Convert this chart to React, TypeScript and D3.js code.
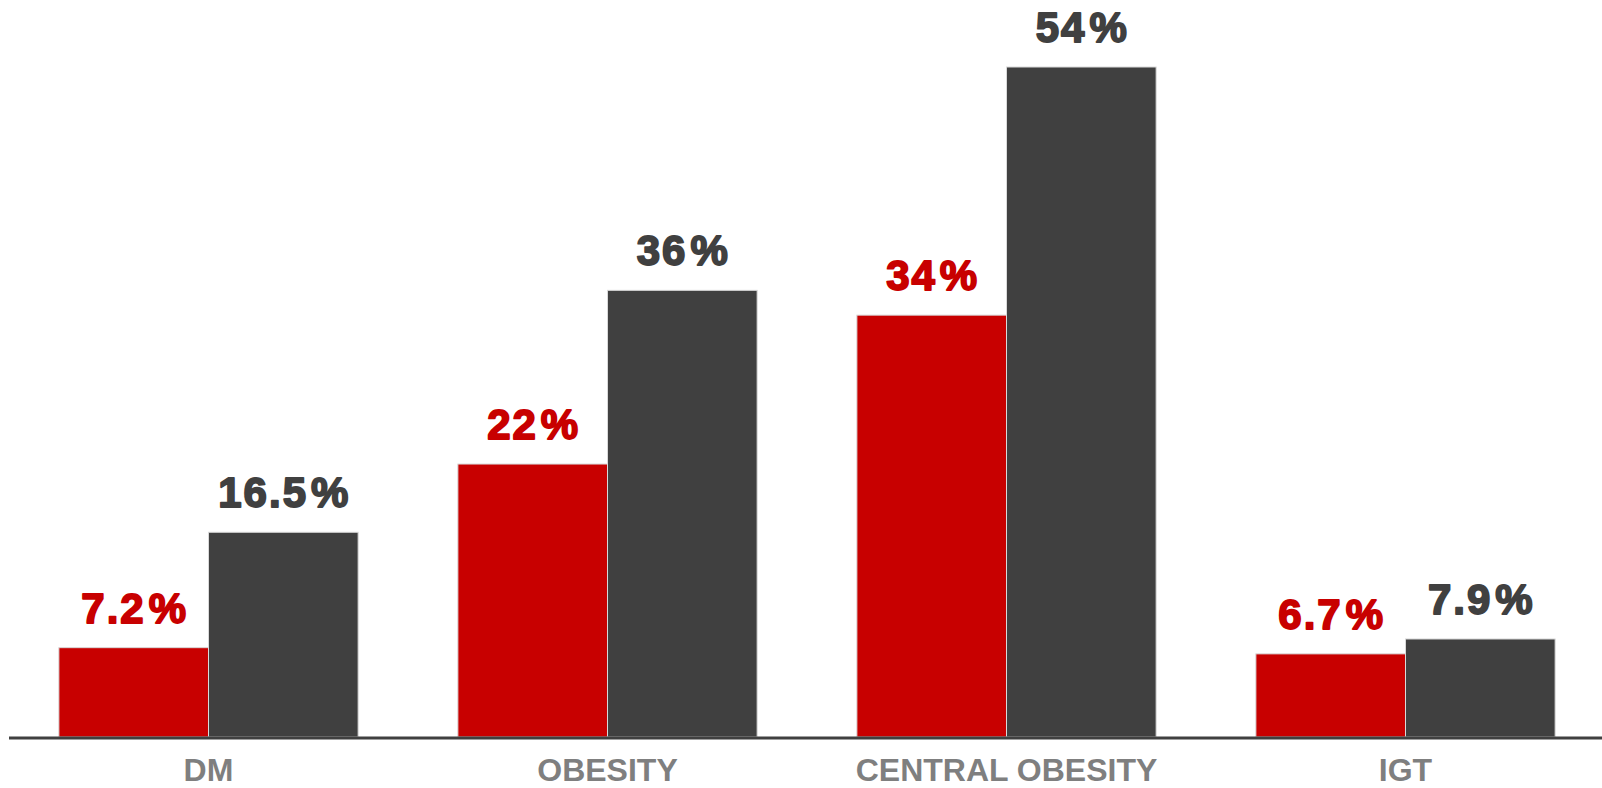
import React from "react";
import * as d3 from "d3";

const categories = ["DM", "OBESITY", "CENTRAL OBESITY", "IGT"];
const seriesKeys = ["a", "b"];
const seriesA = [7.2, 22, 34, 6.7];
const seriesB = [16.5, 36, 54, 7.9];
const labelsA = ["7.2", "22", "34", "6.7"];
const labelsB = ["16.5", "36", "54", "7.9"];

const W = 1602;
const H = 788;
const colors: Record<string, string> = { a: "#C80000", b: "#404040" };

export default function App() {
  const x0 = d3
    .scaleBand<string>()
    .domain(categories)
    .range([9, 1605])
    .paddingInner(0.25)
    .paddingOuter(0.125);
  const x1 = d3.scaleBand<string>().domain(seriesKeys).range([0, x0.bandwidth()]);
  const y = d3.scaleLinear().domain([0, 54]).range([737, 67]);

  const data = categories.map((c, i) => ({
    c,
    vals: [
      { k: "a", v: seriesA[i], label: labelsA[i] },
      { k: "b", v: seriesB[i], label: labelsB[i] },
    ],
  }));

  return (
    <svg
      width={W}
      height={H}
      style={{ position: "absolute", left: 0, top: 0, background: "#fff" }}
      fontFamily="'Liberation Sans', Arial, sans-serif"
    >
      {data.map((d) => (
        <g key={d.c} transform={`translate(${x0(d.c)},0)`}>
          {d.vals.map((s) => (
            <g key={s.k}>
              <rect
                x={x1(s.k)!}
                y={y(s.v)}
                width={x1.bandwidth()}
                height={y(0) - y(s.v)}
                fill={colors[s.k]}
                stroke="#D9D9D9"
                strokeWidth={1}
              />
              <text
                x={x1(s.k)! + x1.bandwidth() / 2 + 1}
                y={y(s.v) - 25}
                textAnchor="middle"
                fontSize={42}
                fontWeight="bold"
                letterSpacing={2}
                fill={colors[s.k]}
                stroke={colors[s.k]}
                strokeWidth={1.8}
                strokeLinejoin="round"
              >
                {s.label}
                <tspan dx={3}>%</tspan>
              </text>
            </g>
          ))}
          <text
            x={x0.bandwidth() / 2}
            y={781}
            textAnchor="middle"
            fontSize={32}
            fontWeight="bold"
            fill="#7F7F7F"
          >
            {d.c}
          </text>
        </g>
      ))}
      <line x1={9} x2={W} y1={738} y2={738} stroke="#404040" strokeWidth={3} />
    </svg>
  );
}
